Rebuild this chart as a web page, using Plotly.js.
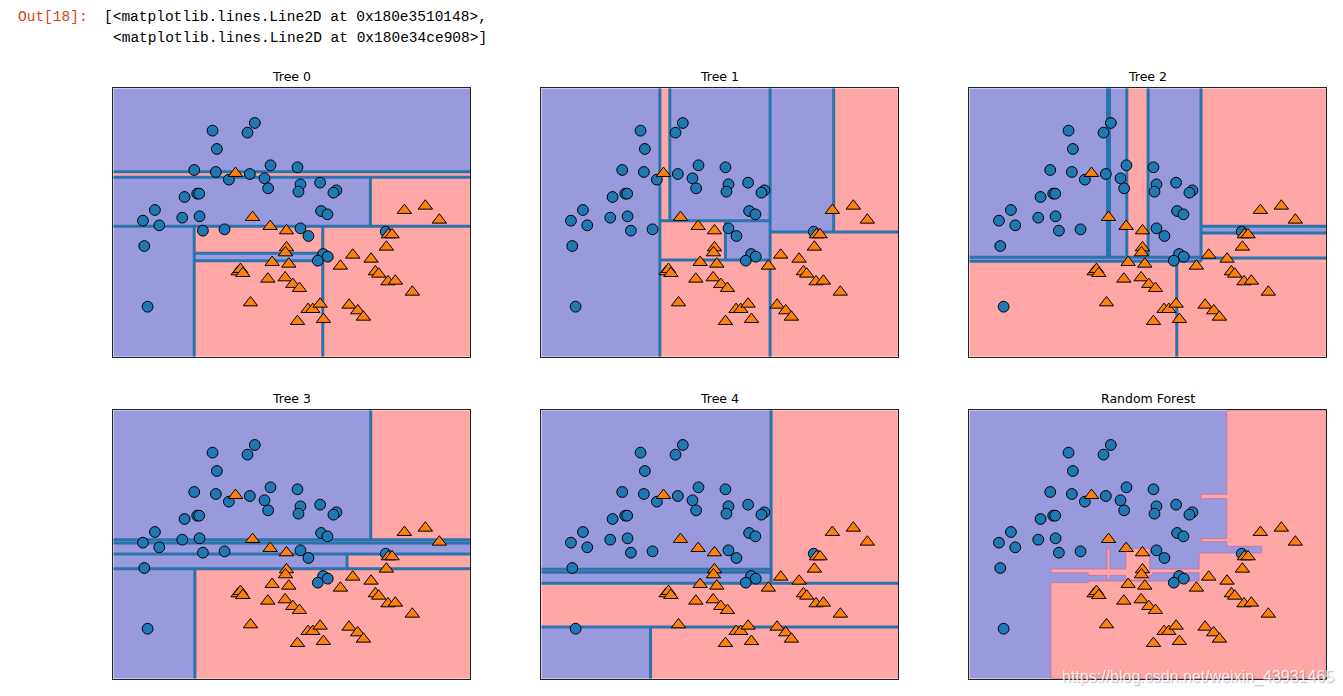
<!DOCTYPE html>
<html><head><meta charset="utf-8">
<script src="https://cdn.plot.ly/plotly-3.0.1.min.js"></script>
<style>html,body{margin:0;padding:0;background:#fff;} #chart{width:1343px;height:696px;}</style>
</head><body><div id="chart"></div>
<script>
// ---- data (x: 0..107.2, y: 0..80.5) ----
const circleX = [29.8,42.5,40.3,31.1,24.3,30.8,34.7,41.0,47.2,45.4,46.5,55.3,56.2,55.6,62.1,67.0,66.1,21.4,25.2,25.8,12.5,8.9,13.8,20.7,25.9,26.9,33.4,9.3,10.3,62.4,64.3,56.2,58.6,63.0,64.4,61.4,81.8];
const circleY = [67.8,70.1,67.2,62.3,56.0,55.4,53.1,54.8,57.4,53.5,50.5,56.8,51.7,49.5,52.2,49.9,49.2,47.9,48.9,48.9,44.0,40.8,39.4,41.7,42.1,37.8,38.2,33.2,15.0,43.7,42.7,38.5,36.2,30.8,30.0,28.8,37.5];
const triX = [36.7,41.8,47.1,52.0,52.0,51.7,47.7,52.7,37.5,38.2,38.9,46.4,51.6,53.9,55.9,41.2,58.5,59.9,62.1,55.3,63.1,68.2,71.9,77.4,78.7,79.7,82.5,84.7,89.8,70.8,73.4,75.1,87.4,93.7,97.9,82.6,83.7,82.0];
const triY = [55.0,41.8,39.1,37.8,32.7,31.2,28.3,27.8,25.5,26.2,25.0,23.3,23.7,21.7,20.5,16.2,14.2,14.2,15.8,10.6,11.2,27.2,30.5,29.3,25.5,24.8,22.5,22.7,19.4,15.5,13.8,11.9,43.9,45.2,41.0,36.6,36.6,32.9];

const panelTitles = ["Tree 0","Tree 1","Tree 2","Tree 3","Tree 4","Random Forest"];
const xRange = [0, 107.2];
const yRange = [0, 80.5];

// regions: [x0, x1, y0, y1, class]  (0 = blue class, 1 = red class)
const tree0Regions = [
  [0,107.2,55.5,80.5,0],[0,107.2,53.8,55.5,1],[0,77.2,39.1,53.8,0],[77.2,107.2,39.1,53.8,1],
  [0,24.3,0,39.1,0],[24.3,107.2,0,39.1,1],[24.3,62.9,28.8,31.0,0]
];
const tree1Regions = [
  [0,35.6,0,80.5,0],[35.6,38.6,40.8,80.5,1],[38.6,68.7,40.8,80.5,0],[35.6,55.3,29.0,40.8,1],
  [55.3,68.7,29.0,40.8,0],[35.6,68.7,0,29.0,1],[68.7,87.8,37.4,80.5,0],[87.8,107.2,37.4,80.5,1],
  [68.7,107.2,0,37.4,1]
];
const tree2Regions = [
  [0,47.3,29.8,80.5,0],[47.3,53.7,29.8,80.5,1],[53.7,69.6,29.8,80.5,0],[69.6,107.2,39.1,80.5,1],
  [69.6,107.2,37.1,39.1,0],[69.6,107.2,28.6,37.1,1],[0,69.6,28.6,29.8,0],[0,107.2,0,28.6,1]
];
const tree3Regions = [
  [0,77.3,41.7,80.5,0],[77.3,107.2,41.7,80.5,1],[0,107.2,37.4,41.7,0],[0,70.2,33.0,37.4,0],
  [70.2,107.2,33.0,37.4,1],[0,24.5,0,33.0,0],[24.5,107.2,0,33.0,1]
];
const tree4Regions = [
  [0,69.0,32.8,80.5,0],[0,69.0,31.9,32.8,1],[0,69.0,28.6,31.9,0],[69.0,107.2,28.6,80.5,1],
  [0,107.2,15.5,28.6,1],[0,32.8,0,15.5,0],[32.8,107.2,0,15.5,1]
];
const forestRegions = [[0,107.2,0,80.5,0]];
// outline of the red-class area of the forest (x, y vertices)
const forestRedX = [77.3,77.3,69.6,69.6,77.3,77.3,69.6,69.6,77.3,77.3,87.8,87.8,69.0,69.0,54.2,54.2,47.0,47.0,42.2,42.2,41.4,41.4,24.5,24.5,35.7,35.7,41.4,41.4,42.2,42.2,47.0,47.0,54.2,54.2,55.0,55.0,69.0,69.0,35.7,35.7,24.5,24.5,107.2,107.2];
const forestRedY = [80.5,55.3,55.3,54.0,54.0,42.0,42.0,41.1,41.1,39.7,39.7,37.7,37.7,32.9,32.9,39.1,39.1,32.9,32.9,39.1,39.1,32.9,32.9,31.8,31.8,31.0,31.0,29.7,29.7,31.0,31.0,29.6,29.6,31.0,31.0,31.8,31.8,29.3,29.3,28.8,28.8,0,0,80.5];

// split lines: [x0, y0, x1, y1]
const tree0Splits = [
  [0,55.5,107.2,55.5],[0,53.8,107.2,53.8],[77.2,39.1,77.2,53.8],[0,39.1,107.2,39.1],
  [24.3,0,24.3,39.1],[62.9,0,62.9,39.1],[24.3,31.0,62.9,31.0],[24.3,28.8,62.9,28.8]
];
const tree1Splits = [
  [35.6,0,35.6,80.5],[38.6,40.8,38.6,80.5],[35.6,40.8,68.7,40.8],[68.7,0,68.7,80.5],
  [35.6,29.0,68.7,29.0],[55.3,29.0,55.3,40.8],[87.8,37.4,87.8,80.5],[68.7,37.4,107.2,37.4]
];
const tree2Splits = [
  [41.5,29.8,41.5,80.5],[42.1,29.8,42.1,80.5],[47.3,29.8,47.3,80.5],[53.7,29.8,53.7,80.5],
  [69.6,28.6,69.6,80.5],[0,29.8,69.6,29.8],[0,28.6,69.6,28.6],[69.6,29.6,107.2,29.6],
  [69.6,39.1,107.2,39.1],[69.6,37.1,107.2,37.1],[62.3,0,62.3,28.6]
];
const tree3Splits = [
  [77.3,41.7,77.3,80.5],[0,41.7,107.2,41.7],[0,40.7,107.2,40.7],[0,37.4,107.2,37.4],
  [70.2,33.0,70.2,37.4],[0,33.0,107.2,33.0],[24.5,0,24.5,33.0]
];
const tree4Splits = [
  [69.0,28.6,69.0,80.5],[0,32.8,69.0,32.8],[0,31.9,69.0,31.9],[0,28.6,107.2,28.6],
  [0,15.5,107.2,15.5],[32.8,0,32.8,15.5]
];
const forestSplits = [];

const panelRegions = [tree0Regions,tree1Regions,tree2Regions,tree3Regions,tree4Regions,forestRegions];
const panelSplits = [tree0Splits,tree1Splits,tree2Splits,tree3Splits,tree4Splits,forestSplits];

// ---- styling / layout ----
const W = 1343, H = 696;
const colsPx = [[113.3,470.3],[541.3,898.3],[969.3,1326.3]];
const rowsPx = [[88.3,356.7],[410.3,678.7]];
const classFill = ['#9999dd', '#ffa6a6'];
const splitColor = '#2a73ad';

const traces = [];
const shapes = [];
const annotations = [];
const layout = {
  width: W, height: H,
  margin: {l:0, r:0, t:0, b:0},
  paper_bgcolor: '#ffffff', plot_bgcolor: '#ffffff',
  showlegend: false,
  font: {family: 'DejaVu Sans', size: 12, color: '#000'}
};

panelTitles.forEach((title, i) => {
  const r = Math.floor(i/3), c = i % 3;
  const s = i === 0 ? '' : String(i+1);
  const axStyle = {showline:true, mirror:true, linecolor:'#222', linewidth:1, showgrid:false,
                   zeroline:false, showticklabels:false, ticks:'', fixedrange:true};
  layout['xaxis'+s] = Object.assign({}, axStyle, {domain:[colsPx[c][0]/W, colsPx[c][1]/W], range:xRange, anchor:'y'+s});
  layout['yaxis'+s] = Object.assign({}, axStyle, {domain:[1-rowsPx[r][1]/H, 1-rowsPx[r][0]/H], range:yRange, anchor:'x'+s});

  panelRegions[i].forEach(g => {
    shapes.push({type:'rect', xref:'x'+s, yref:'y'+s, x0:g[0], x1:g[1], y0:g[2], y1:g[3],
      fillcolor: classFill[g[4]], line:{width:0}, layer:'below'});
  });
  if (i === 5) {
    let p = 'M' + forestRedX.map((x, k) => x + ',' + forestRedY[k]).join(' L') + ' Z';
    shapes.push({type:'path', xref:'x'+s, yref:'y'+s, path:p, fillcolor:classFill[1],
      line:{color:'rgba(200,105,160,0.75)', width:1}, layer:'below'});
  }
  panelSplits[i].forEach(l => {
    shapes.push({type:'line', xref:'x'+s, yref:'y'+s, x0:l[0], y0:l[1], x1:l[2], y1:l[3],
      line:{color:splitColor, width:3}, layer:'below'});
  });

  traces.push({type:'scatter', mode:'markers', x:circleX, y:circleY, xaxis:'x'+s, yaxis:'y'+s,
    marker:{symbol:'circle', size:10.8, color:'#1f77b4', line:{color:'#000', width:1}}, hoverinfo:'skip'});
  traces.push({type:'scatter', mode:'markers', x:triX, y:triY, xaxis:'x'+s, yaxis:'y'+s,
    marker:{symbol:'triangle-up', size:12.5, color:'#ff7f0e', line:{color:'#000', width:1}}, hoverinfo:'skip'});

  annotations.push({text:title, xref:'paper', yref:'paper', x:(colsPx[c][0]+colsPx[c][1])/2/W,
    y:1-(rowsPx[r][0]-12)/H, xanchor:'center', yanchor:'middle', showarrow:false,
    font:{family:'DejaVu Sans', size:12.5, color:'#000'}});
});

annotations.push({text:'Out[18]:', xref:'paper', yref:'paper', x:16/W, y:1-17/H, xanchor:'left', yanchor:'middle',
  showarrow:false, font:{family:'Liberation Mono', size:14.5, color:'#d84315'}});
annotations.push({text:'[&lt;matplotlib.lines.Line2D at 0x180e3510148&gt;,', xref:'paper', yref:'paper', x:102/W, y:1-17/H,
  xanchor:'left', yanchor:'middle', showarrow:false, font:{family:'Liberation Mono', size:14.5, color:'#000'}});
annotations.push({text:'&lt;matplotlib.lines.Line2D at 0x180e34ce908&gt;]', xref:'paper', yref:'paper', x:110.7/W, y:1-38/H,
  xanchor:'left', yanchor:'middle', showarrow:false, font:{family:'Liberation Mono', size:14.5, color:'#000'}});
annotations.push({text:'https://blog.csdn.net/weixin_43931465', xref:'paper', yref:'paper', x:1060/W, y:1-677/H,
  xanchor:'left', yanchor:'middle', showarrow:false,
  font:{family:'Liberation Sans', size:16, color:'rgba(255,255,255,0.85)', shadow:'1px 1px 1px rgba(90,90,90,0.5)'}});

layout.shapes = shapes;
layout.annotations = annotations;

Plotly.newPlot('chart', traces, layout, {displayModeBar:false, staticPlot:true});
</script>
</body></html>
